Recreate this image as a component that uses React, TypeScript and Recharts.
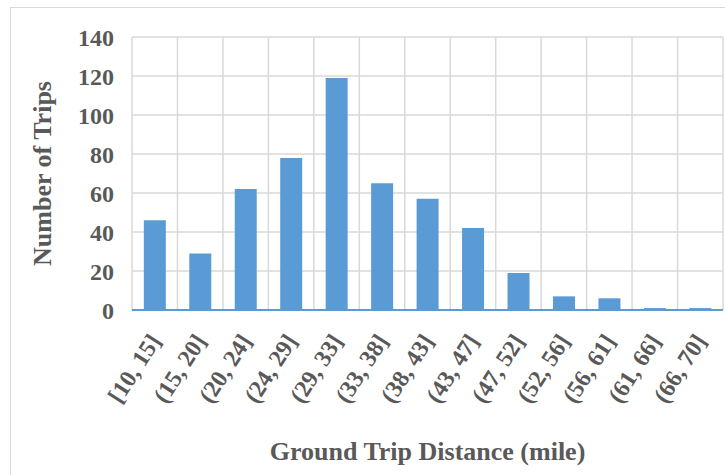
import { Bar, BarChart, CartesianGrid, XAxis, YAxis } from "recharts";

const categories = [
  "[10, 15]",
  "(15, 20]",
  "(20, 24]",
  "(24, 29]",
  "(29, 33]",
  "(33, 38]",
  "(38, 43]",
  "(43, 47]",
  "(47, 52]",
  "(52, 56]",
  "(56, 61]",
  "(61, 66]",
  "(66, 70]",
];
const trips = [46, 29, 62, 78, 119, 65, 57, 42, 19, 7, 6, 1, 1];
const yTicks = [0, 20, 40, 60, 80, 100, 120, 140];

const data = categories.map((range, i) => ({ range, trips: trips[i] }));

const FONT = '"Liberation Serif", "Times New Roman", serif';
const TEXT = "#595959";
const BLUE = "#5b9bd5";
const GRID = "#d9d9d9";

function RangeTick({ x, y, payload }: any) {
  return (
    <g transform={`translate(${x + 7},${y + 31})`}>
      <text
        transform="rotate(-57)"
        textAnchor="end"
        fontFamily={FONT}
        fontWeight="bold"
        fontSize={24}
        fill={TEXT}
      >
        {payload.value}
      </text>
    </g>
  );
}

export default function App() {
  return (
    <div
      style={{
        position: "absolute",
        left: 10,
        top: 7,
        width: 715,
        height: 468,
        borderTop: `1px solid ${GRID}`,
        borderLeft: `1px solid ${GRID}`,
        boxSizing: "border-box",
        background: "#fff",
      }}
    >
      <BarChart
        width={714}
        height={467}
        data={data}
        margin={{ top: 29, right: 2, left: 0, bottom: 0 }}
        barCategoryGap="26%"
      >
        <CartesianGrid
          stroke={GRID}
          strokeWidth={1.5}
          verticalCoordinatesGenerator={({ offset }: any) =>
            Array.from(
              { length: categories.length + 1 },
              (_, i) => offset.left + (i * offset.width) / categories.length
            )
          }
        />
        <XAxis
          dataKey="range"
          interval={0}
          height={165}
          tickSize={0}
          tickMargin={0}
          axisLine={{ stroke: BLUE, strokeWidth: 2 }}
          tickLine={false}
          tick={<RangeTick />}
          label={{
            content: ({ viewBox }: any) => (
              <text
                x={viewBox.x + viewBox.width / 2}
                y={452}
                textAnchor="middle"
                fontFamily={FONT}
                fontWeight="bold"
                fontSize={26}
                fill={TEXT}
              >
                Ground Trip Distance (mile)
              </text>
            ),
          }}
        />
        <YAxis
          width={121}
          domain={[0, 140]}
          ticks={yTicks}
          interval={0}
          axisLine={false}
          tickLine={false}
          tickSize={0}
          tickMargin={18}
          tick={{ fill: TEXT, fontFamily: FONT, fontWeight: "bold", fontSize: 24 }}
          label={{
            content: ({ viewBox }: any) => {
              const cy = viewBox.y + viewBox.height / 2;
              return (
                <text
                  x={40}
                  y={cy}
                  transform={`rotate(-90, 40, ${cy})`}
                  textAnchor="middle"
                  fontFamily={FONT}
                  fontWeight="bold"
                  fontSize={26}
                  fill={TEXT}
                >
                  Number of Trips
                </text>
              );
            },
          }}
        />
        <Bar dataKey="trips" fill={BLUE} isAnimationActive={false} />
      </BarChart>
    </div>
  );
}
